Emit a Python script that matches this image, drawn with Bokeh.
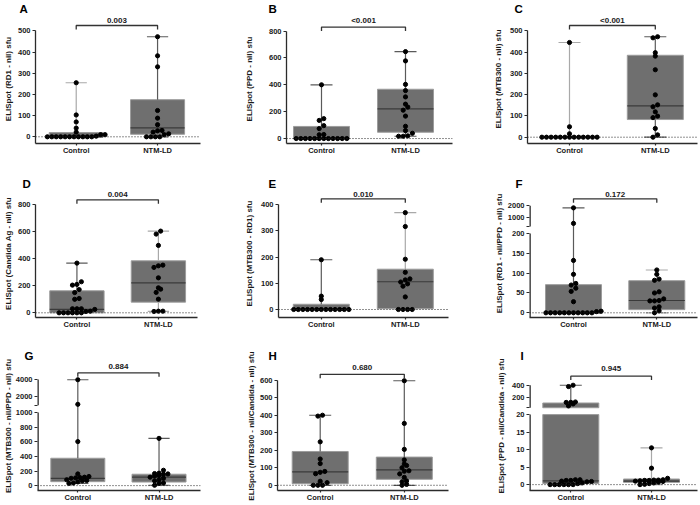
import numpy as np
from bokeh.plotting import figure
from bokeh.layouts import column, row
from bokeh.models import FixedTicker, Span
from bokeh.core.properties import value
from bokeh.embed import file_html
from bokeh.resources import INLINE

groups = ["Control", "NTM-LD"]

# ---------------- data ----------------
# box stats: [min, q1, median, q3, max]
a_label = "ELISpot (RD1 - nil) sfu"
a_p = "0.003"
a_ctrl = [255, 103, 70, 41, 22, 10, 10, 3, 0, 0, 0, 0, 0, 0, 0, 0, 0, 0, 0]
a_ntm = [472, 382, 330, 124, 88, 57, 30, 28, 22, 14, 10, 0, 0, 0, 0]
a_box_ctrl = [0, 0, 0, 20, 255]
a_box_ntm = [0, 12, 42, 175, 472]
a_ticks = [0, 100, 200, 300, 400, 500]

b_label = "ELISpot (PPD - nil) sfu"
b_p = "<0.001"
b_ctrl = [400, 148, 135, 96, 74, 30, 28, 0, 0, 0, 0, 0, 0, 0, 0, 0, 0, 0, 0]
b_ntm = [647, 578, 403, 357, 310, 256, 234, 211, 167, 91, 59, 39, 20, 17, 17]
b_box_ctrl = [0, 0, 0, 90, 400]
b_box_ntm = [17, 47, 221, 367, 647]
b_ticks = [0, 200, 400, 600, 800]

c_label = "ELISpot (MTB300 - nil) sfu"
c_p = "<0.001"
c_ctrl = [445, 49, 16, 0, 0, 0, 0, 0, 0, 0, 0, 0, 0, 0, 0, 0]
c_ntm = [472, 467, 397, 381, 317, 199, 152, 143, 119, 99, 92, 41, 11, 0]
c_box_ctrl = [0, 0, 0, 0, 445]
c_box_ntm = [0, 83, 147, 385, 472]
c_ticks = [0, 100, 200, 300, 400, 500]

d_label = "ELISpot (Candida Ag - nil) sfu"
d_p = "0.004"
d_ctrl = [368, 230, 210, 205, 172, 150, 106, 100, 30, 30, 30, 25, 12, 10, 0, 0, 0, 0, 0, 0]
d_ntm = [605, 583, 499, 353, 348, 336, 259, 185, 175, 151, 101, 12, 12, 10]
d_box_ctrl = [0, 0, 25, 163, 368]
d_box_ntm = [10, 79, 222, 385, 605]
d_ticks = [0, 200, 400, 600, 800]

e_label = "ELISpot (MTB300 - RD1) sfu"
e_p = "0.010"
e_ctrl = [190, 51, 38, 0, 0, 0, 0, 0, 0, 0, 0, 0, 0, 0, 0, 0]
e_ntm = [370, 317, 192, 142, 117, 113, 105, 98, 89, 48, 0, 0, 0, 0]
e_box_ctrl = [0, 0, 0, 20, 190]
e_box_ntm = [0, 3, 106, 154, 370]
e_ticks = [0, 100, 200, 300, 400]

f_label = "ELISpot (RD1 - nil/PPD - nil) sfu"
f_p = "0.172"
f_ctrl = [1820, 470, 132, 97, 74, 70, 62, 54, 28, 4, 3, 0, 0, 0, 0, 0, 0, 0, 0, 0, 0, 0]
f_ntm = [108, 97, 85, 82, 53, 50, 35, 31, 30, 30, 15, 12, 5, 0]
f_box_ctrl = [0, 0, 0, 71, 1820]
f_box_ntm = [0, 8, 31, 81, 108]
f_ticks = [0, 50, 100, 150, 200]
f_top_ticks = [1000, 2000]

g_label = "ELISpot (MTB300 - nil/PPD - nil) sfu"
g_p = "0.884"
g_ctrl = [3960, 1100, 603, 160, 125, 115, 110, 105, 100, 80, 70, 65, 50, 35, 30]
g_ntm = [647, 210, 170, 165, 160, 155, 140, 130, 115, 100, 80, 65, 35, 30, 5]
g_box_ctrl = [30, 54, 98, 375, 3960]
g_box_ntm = [5, 49, 116, 156, 647]
g_ticks = [0, 200, 400, 600, 800, 1000]
g_top_ticks = [2000, 4000]

h_label = "ELISpot (MTB300 - nil/Candida - nil) sfu"
h_p = "0.680"
h_ctrl = [400, 395, 248, 150, 124, 79, 74, 66, 23, 15, 0, 0, 0]
h_ntm = [597, 353, 205, 145, 122, 113, 100, 83, 80, 65, 45, 25, 20, 5, 0]
h_box_ctrl = [0, 9, 77, 193, 400]
h_box_ntm = [0, 34, 88, 161, 597]
h_ticks = [0, 100, 200, 300, 400, 500, 600]

i_label = "ELISpot (PPD - nil/Candida - nil) sfu"
i_p = "0.945"
i_ctrl = [400, 378, 117, 111, 110, 85, 50, 1.4, 1.4, 1.2, 1.2, 1.0, 0.9, 0.8, 0.5, 0.3, 0, 0, 0, 0, 0, 0]
i_ntm = [10.5, 4.7, 1.8, 1.4, 1.3, 1.3, 1.2, 1.2, 1.1, 1.0, 0.9, 0.7, 0.5, 0.3, 0.1, 0]
i_box_ctrl = [0, 0.3, 1.1, 100, 400]
i_box_ntm = [0, 0.65, 1.0, 1.6, 10.5]
i_ticks = [0, 5, 10, 15, 20]
i_top_ticks = [200, 400]

# ---------------- layout / style (pixel positions on the page) ----------------
FONT = "Liberation Sans"
COL_X = [0, 233, 466]
COL_W = [233, 233, 234]
ROW_Y = [0, 175, 347]
ROW_H = [175, 172, 157]
TITLE_H = 14          # space above the frame holding the panel letter
LIGHT, DARK = "#a9a9a9", "#5a5a5a"
BOX_FILL, BOX_LINE, MED = "#6f6f6f", "#9c9c9c", "#3a3a3a"
AXIS = "#2b2b2b"

GEOM = {
    "A": dict(c=0, r=0, fl=29, fr=200, xc=71.2, xn=155.5, top=500, top_y=30.3, zero_y=136.3, axis_y=143,
              br_y=25, p_y=19.5, let_x=13, ls=2, wh=(LIGHT, DARK)),
    "B": dict(c=1, r=0, fl=286, fr=452, xc=321, xn=405, top=800, top_y=30.7, zero_y=139, axis_y=144,
              br_y=26.7, p_y=20, let_x=268, ls=12, wh=(DARK, DARK)),
    "C": dict(c=2, r=0, fl=527, fr=697, xc=569, xn=654.8, top=500, top_y=30.3, zero_y=136.7, axis_y=143,
              br_y=25, p_y=19.5, let_x=514, ls=4, wh=(LIGHT, DARK)),
    "D": dict(c=0, r=1, fl=30, fr=197, xc=72.7, xn=156.7, top=800, top_y=204.3, zero_y=312.3, axis_y=317,
              br_y=199.3, p_y=193.5, let_x=17, ls=2, wh=(DARK, LIGHT)),
    "E": dict(c=1, r=1, fl=278, fr=448, xc=320.8, xn=404.8, top=400, top_y=204.3, zero_y=309, axis_y=317,
              br_y=198.3, p_y=193.5, let_x=268, ls=4, wh=(DARK, LIGHT)),
    "F": dict(c=2, r=1, fl=529, fr=697, xc=573, xn=656.3, b_top=200, t_top=2000, b_top_y=233, t_bot_y=226,
              t_top_y=205.3, zero_y=312.3, axis_y=317, br_y=198.3, p_y=193.5, let_x=515, ls=1,
              wh=(DARK, LIGHT)),
    "G": dict(c=0, r=2, fl=31, fr=200, xc=72.8, xn=157, b_top=1000, t_top=4000, b_top_y=413.3, t_bot_y=405.7,
              t_top_y=379.3, zero_y=488, axis_y=493, br_y=372.7, p_y=366.5, let_x=18, ls=0, wh=(DARK, DARK)),
    "H": dict(c=1, r=2, fl=277, fr=448, xc=319.7, xn=403.8, top=600, top_y=380, zero_y=486.7, axis_y=492,
              br_y=374, p_y=367, let_x=268, ls=1, wh=(DARK, DARK)),
    "I": dict(c=2, r=2, fl=529, fr=697, xc=570.3, xn=651, b_top=20, t_top=400, b_top_y=415.3, t_bot_y=408.3,
              t_top_y=385.3, zero_y=487, axis_y=493, br_y=376, p_y=368.3, let_x=520, ls=3,
              wh=(DARK, LIGHT)),
}

PANELS = [
    ("A", a_label, a_p, a_ctrl, a_ntm, a_box_ctrl, a_box_ntm, a_ticks, None),
    ("B", b_label, b_p, b_ctrl, b_ntm, b_box_ctrl, b_box_ntm, b_ticks, None),
    ("C", c_label, c_p, c_ctrl, c_ntm, c_box_ctrl, c_box_ntm, c_ticks, None),
    ("D", d_label, d_p, d_ctrl, d_ntm, d_box_ctrl, d_box_ntm, d_ticks, None),
    ("E", e_label, e_p, e_ctrl, e_ntm, e_box_ctrl, e_box_ntm, e_ticks, None),
    ("F", f_label, f_p, f_ctrl, f_ntm, f_box_ctrl, f_box_ntm, f_ticks, f_top_ticks),
    ("G", g_label, g_p, g_ctrl, g_ntm, g_box_ctrl, g_box_ntm, g_ticks, g_top_ticks),
    ("H", h_label, h_p, h_ctrl, h_ntm, h_box_ctrl, h_box_ntm, h_ticks, None),
    ("I", i_label, i_p, i_ctrl, i_ntm, i_box_ctrl, i_box_ntm, i_ticks, i_top_ticks),
]


def make_scale(g):
    """value -> axis units (piecewise for a broken axis) and px per unit."""
    zero = g["zero_y"]
    if "b_top" in g:
        b, t = g["b_top"], g["t_top"]
        ppu = (zero - g["b_top_y"]) / b
        gap_u = (g["b_top_y"] - g["t_bot_y"]) / ppu
        k = (g["t_bot_y"] - g["t_top_y"]) / (t - b) / ppu

        def tf(v):
            v = np.asarray(v, dtype=float)
            return np.where(v <= b, v, b + gap_u + (v - b) * k)
        return tf, ppu, b, gap_u
    ppu = (zero - g["top_y"]) / g["top"]
    return (lambda v: np.asarray(v, dtype=float)), ppu, None, None


def swarm(u, ppu, ppx, spacing_px=4.6, row_px=3.4):
    u = np.asarray(u, dtype=float)
    order = np.argsort(u, kind="stable")
    rows, cur, start = [], [], None
    for i in order:
        py = u[i] * ppu
        if cur and py - start > row_px:
            rows.append(cur)
            cur = []
        if not cur:
            start = py
        cur.append(i)
    if cur:
        rows.append(cur)
    offs = np.zeros(len(u))
    for rr in rows:
        n = len(rr)
        for j, i in enumerate(rr):
            offs[i] = (j - (n - 1) / 2) * spacing_px / ppx
    return offs


def panel(key, ylabel, ptext, ctrl, ntm, box_c, box_n, ticks, top_ticks):
    g = GEOM[key]
    tf, ppu, bbreak, gap_u = make_scale(g)
    fig_l, fig_t = COL_X[g["c"]], ROW_Y[g["r"]]
    fig_w, fig_h = COL_W[g["c"]], ROW_H[g["r"]]
    fl, fr, ay = g["fl"], g["fr"], g["axis_y"]
    frame_top = fig_t + TITLE_H
    ppx = g["xn"] - g["xc"]
    x0 = -(g["xc"] - fl) / ppx
    x1 = (fr - g["xc"]) / ppx
    y0 = -(ay - g["zero_y"]) / ppu
    y1 = (g["zero_y"] - frame_top) / ppu

    p = figure(width=fig_w, height=fig_h, x_range=(x0, x1), y_range=(y0, y1),
               output_backend="svg", toolbar_location=None, title=key,
               min_border_left=fl - fig_l, min_border_right=fig_l + fig_w - fr,
               min_border_top=TITLE_H, min_border_bottom=fig_t + fig_h - ay)
    p.outline_line_color = None
    p.grid.visible = False
    p.background_fill_color = "white"
    p.border_fill_color = "white"

    # panel letter as the figure title, pulled left of the frame
    p.title.align = "left"
    p.title.offset = g["let_x"] - fl
    p.title.standoff = 0
    p.title.text_font = FONT
    p.title.text_font_style = "bold"
    p.title.text_font_size = "11.5px"
    p.title.text_color = "black"

    p.add_layout(Span(location=0, dimension="width", line_color="#222222",
                      line_dash="1 2", line_width=1))

    hw = 28 / ppx
    cw = 11 / ppx
    for gi, (vals, bx) in enumerate([(ctrl, box_c), (ntm, box_n)]):
        lo, q1, med, q3, hi = bx
        pieces = []
        if bbreak is None or q3 <= bbreak:
            pieces.append((tf(q1), tf(q3)))
        elif q1 < bbreak:
            pieces.append((tf(q1), bbreak))
            pieces.append((bbreak + gap_u, tf(q3)))
        else:
            pieces.append((tf(q1), tf(q3)))
        for (bb, tt) in pieces:
            p.quad(left=gi - hw, right=gi + hw, bottom=float(bb), top=float(tt),
                   fill_color=BOX_FILL, line_color=BOX_LINE, line_width=1)
        wc = g["wh"][gi]
        p.segment(x0=[gi, gi], y0=[float(tf(q3)), float(tf(q1))], x1=[gi, gi],
                  y1=[float(tf(hi)), float(tf(lo))], line_color=wc, line_width=1.2)
        p.segment(x0=[gi - cw, gi - cw], y0=[float(tf(hi)), float(tf(lo))],
                  x1=[gi + cw, gi + cw], y1=[float(tf(hi)), float(tf(lo))],
                  line_color=wc, line_width=1.2)
        p.segment(x0=[gi - hw], y0=[float(tf(med))], x1=[gi + hw], y1=[float(tf(med))],
                  line_color=MED, line_width=1.2)
        u = tf(vals)
        xs = gi + swarm(u, ppu, ppx)
        p.scatter(x=xs, y=u, size=4.2, fill_color="black", line_color="black")

    # significance bracket
    ub = (g["zero_y"] - g["br_y"]) / ppu
    tk = 4 / ppu
    p.line(x=[0, 0, 1, 1], y=[ub - tk, ub, ub, ub - tk], line_color="#333333", line_width=1.3)
    up = (g["zero_y"] - g["p_y"]) / ppu
    p.text(x=[0.5], y=[up], text=[ptext], text_align="center", text_baseline="middle",
           text_font=value(FONT), text_font_style="bold", text_font_size="8px", text_color="#1a1a1a")

    xa = p.xaxis[0]
    xa.ticker = FixedTicker(ticks=[0, 1])
    xa.major_label_overrides = {0: groups[0], 1: groups[1]}
    xa.minor_tick_line_color = None
    xa.major_tick_in = 0
    xa.major_tick_out = 2
    xa.major_label_standoff = 0
    xa.axis_line_color = AXIS
    xa.axis_line_width = 1.3
    xa.major_tick_line_color = AXIS
    xa.major_tick_line_width = 1.2
    xa.major_label_text_font = FONT
    xa.major_label_text_font_style = "bold"
    xa.major_label_text_font_size = "7.5px"
    xa.major_label_text_color = "#1a1a1a"

    ya = p.yaxis[0]
    if top_ticks is None:
        ya.ticker = FixedTicker(ticks=list(ticks))
        ya.bounds = (y0, float(tf(g["top"])))
        ya.axis_line_color = AXIS
        ya.axis_line_width = 1.3
    else:
        pos = [round(float(tf(t)), 4) for t in ticks]
        tpos = [round(float(tf(t)), 4) for t in top_ticks]
        brk = round(bbreak + gap_u, 4)
        ya.ticker = FixedTicker(ticks=pos + [brk] + tpos)
        ov = {pv: str(t) for pv, t in zip(pos, ticks)}
        ov.update({pv: str(t) for pv, t in zip(tpos, top_ticks)})
        ov[brk] = ""
        ya.major_label_overrides = ov
        ya.axis_line_color = None
        p.segment(x0=[x0, x0], y0=[y0, bbreak + gap_u], x1=[x0, x0],
                  y1=[float(bbreak), float(tf(g["t_top"]))], line_color=AXIS, line_width=2.6)
    ya.minor_tick_line_color = None
    ya.major_tick_in = 0
    ya.major_tick_out = 3
    ya.major_label_standoff = 2
    ya.major_tick_line_color = AXIS
    ya.major_tick_line_width = 1.2
    ya.major_label_text_font = FONT
    ya.major_label_text_font_style = "bold"
    ya.major_label_text_font_size = "7.5px"
    ya.major_label_text_color = "#1a1a1a"
    ya.axis_label = ylabel
    ya.axis_label_standoff = g["ls"]
    ya.axis_label_text_font = FONT
    ya.axis_label_text_font_style = "bold"
    ya.axis_label_text_font_size = "8px"
    ya.axis_label_text_color = "#1a1a1a"
    return p


figs = [panel(*args) for args in PANELS]
layout = column(row(*figs[0:3]), row(*figs[3:6]), row(*figs[6:9]))

open("out.html", "w").write(file_html(layout, INLINE))
